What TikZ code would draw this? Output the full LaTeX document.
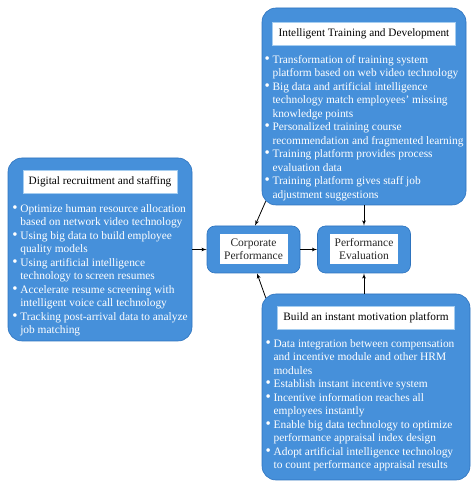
\documentclass[tikz,border=0pt]{standalone}
\usepackage{fontspec}
\setmainfont{Liberation Serif}
\usetikzlibrary{shapes, arrows, positioning}

\definecolor{boxblue}{RGB}{70,144,218}
\definecolor{boxedge}{RGB}{45,115,190}
\definecolor{titleedge}{RGB}{165,205,240}

\newcommand{\bul}{\makebox[8pt][l]{\raisebox{0.2pt}{\fontsize{15}{13.5}\selectfont\textbullet}}}
\newcommand{\ind}{\hspace*{8pt}}

\begin{document}
\begin{tikzpicture}[
        x=1pt,
        y=1pt,
        font=\fontsize{11.5}{13}\selectfont,
        panel/.style={
            rectangle,
            draw=boxedge,
            fill=boxblue,
            rounded corners=14pt,
            line width=0.6pt
        },
        smallbox/.style={
            rectangle,
            draw=boxedge,
            fill=boxblue,
            rounded corners=8pt,
            minimum width=93pt,
            minimum height=47pt,
            line width=0.6pt
        },
        whitebox/.style={
            rectangle,
            fill=white,
            minimum width=68pt,
            minimum height=30pt,
            inner sep=0pt,
            align=center,
            text=black!85
        },
        heading/.style={
            rectangle,
            draw=titleedge,
            fill=white,
            minimum height=23pt,
            inner xsep=6pt,
            font=\fontsize{11.3}{13}\selectfont
        },
        items/.style={
            text=white,
            align=left,
            inner sep=0pt,
            font=\fontsize{11.4}{13.5}\selectfont
        },
        line/.style={
            draw,
            -latex',
            thick
        }
    ]
        \useasboundingbox (0,0) rectangle (474,484);

        % Nodes
        \node [panel, minimum width=204pt, minimum height=197pt] (training) at (364,377.5) {};
        \node [panel, minimum width=184pt, minimum height=183pt] (recruit) at (100,234.5) {};
        \node [smallbox] (corporate) at (253.5,234.5) {};
        \node [smallbox] (evaluation) at (364,234.5) {};
        \node [panel, minimum width=208pt, minimum height=186pt] (motivation) at (366,97) {};

        \node [whitebox] (corporatetext) at (corporate) {Corporate\\Performance};
        \node [whitebox] (evaluationtext) at (evaluation) {Performance\\Evaluation};

        \node [heading, below=14pt of training.north] (trainingtitle) {Intelligent Training and Development};
        \node [heading, below=12pt of recruit.north] (recruittitle) {Digital recruitment and staffing};
        \node [heading, below=12pt of motivation.north] (motivationtitle) {Build an instant motivation platform};

        \node [items, below=10pt of trainingtitle] (traininglist) {%
            \bul Transformation of training system\\
            \ind platform based on web video technology\\
            \bul Big data and artificial intelligence\\
            \ind technology match employees' missing\\
            \ind knowledge points\\
            \bul Personalized training course\\
            \ind recommendation and fragmented learning\\
            \bul Training platform provides process\\
            \ind evaluation data\\
            \bul Training platform gives staff job\\
            \ind adjustment suggestions};
        \node [items, below=11pt of recruittitle] (recruitlist) {%
            \bul Optimize human resource allocation\\
            \ind based on network video technology\\
            \bul Using big data to build employee\\
            \ind quality models\\
            \bul Using artificial intelligence\\
            \ind technology to screen resumes\\
            \bul Accelerate resume screening with\\
            \ind intelligent voice call technology\\
            \bul Tracking post-arrival data to analyze\\
            \ind job matching};
        \node [items, below=10pt of motivationtitle, xshift=-6pt] (motivationlist) {%
            \bul Data integration between compensation\\
            \ind and incentive module and other HRM\\
            \ind modules\\
            \bul Establish instant incentive system\\
            \bul Incentive information reaches all\\
            \ind employees instantly\\
            \bul Enable big data technology to optimize\\
            \ind performance appraisal index design\\
            \bul Adopt artificial intelligence technology\\
            \ind to count performance appraisal results};

        % Paths
        \path [line] (recruit) -- (corporate);
        \path [line] (corporate) -- (evaluation);
        \path [line] (training) -- (evaluation);
        \path [line] (motivation.north -| evaluation.south) -- (evaluation.south);
        \path [line] ([shift={(4pt,4pt)}]training.south west) -- ([xshift=1.5pt]corporate.north);
        \path [line] ([shift={(4pt,-4pt)}]motivation.north west) -- ([xshift=3.5pt]corporate.south);

    \end{tikzpicture}
\end{document}
